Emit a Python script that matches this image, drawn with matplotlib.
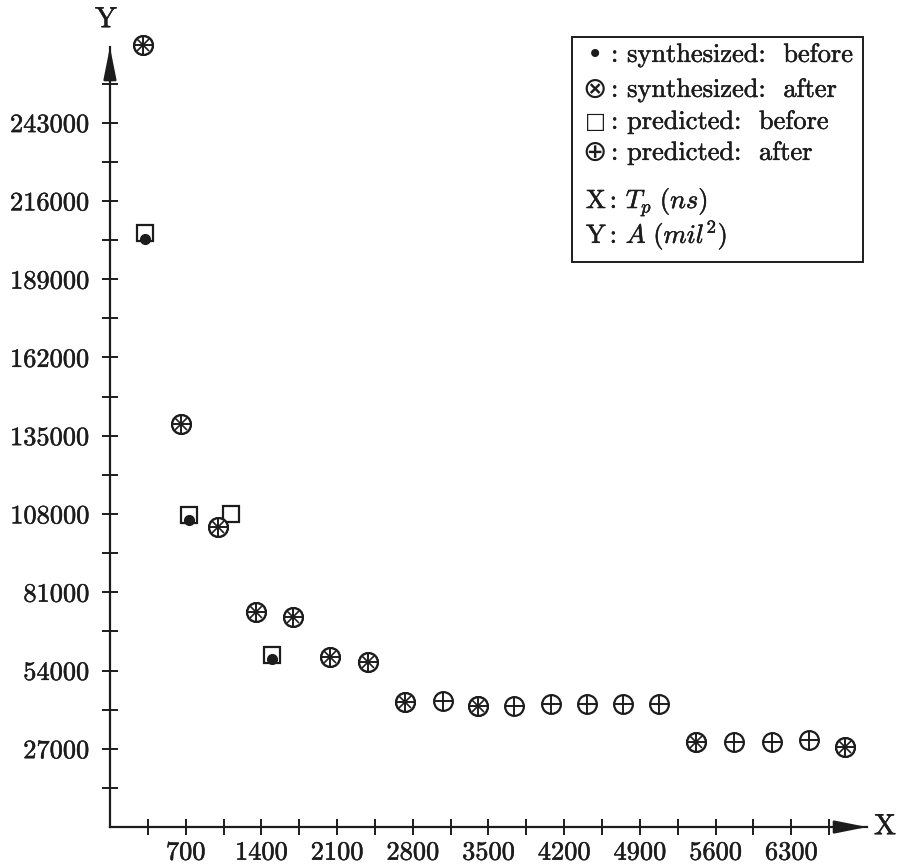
import matplotlib
matplotlib.use('Agg')
import matplotlib.pyplot as plt
import matplotlib.patheffects as pe
from matplotlib.patches import Rectangle

plt.rcParams['font.family'] = ['cmr10', 'DejaVu Sans']
plt.rcParams['mathtext.fontset'] = 'cm'
plt.rcParams['axes.formatter.use_mathtext'] = True

INK = '#1c1c1c'
BOLD = [pe.withStroke(linewidth=0.35, foreground=INK)]

# synthesized: before (dot)
synth_before_x = [324, 733, 1502]
synth_before_y = [203000, 106000, 57800]

# predicted: before (square)
pred_before_x = [324, 733, 1121, 1502]
pred_before_y = [204900, 107600, 108000, 59300]

# synthesized: after (circle with x)
synth_after_x = [306, 658, 1001, 1354, 1696, 2039, 2382, 2726, 3402, 5423, 6795]
synth_after_y = [269800, 139000, 103500, 74200, 72500, 58700, 56900, 43100, 41700, 29300, 27600]

# predicted: after (circle with +)
pred_after_x = [306, 658, 1001, 1354, 1696, 2039, 2382, 2726, 3078, 3402, 3736, 4078,
                4412, 4747, 5080, 5423, 5766, 6119, 6461, 6795]
pred_after_y = [269800, 139000, 103500, 74200, 72500, 58700, 56900, 43100, 43500, 41700,
                41700, 42400, 42400, 42400, 42400, 29300, 29300, 29300, 30000, 27600]

x_labels = [700, 1400, 2100, 2800, 3500, 4200, 4900, 5600, 6300]
x_minor = [350, 1050, 1750, 2450, 3150, 3850, 4550, 5250, 5950, 6650]
y_labels = [27000, 54000, 81000, 108000, 135000, 162000, 189000, 216000, 243000]
y_minor = [13500, 40500, 67500, 94500, 121500, 148500, 175500, 202500, 229500, 256500]

fig = plt.figure(figsize=(9.05, 8.68), dpi=100)
ax = fig.add_axes([0.1215, 0.0472, 0.8365, 0.8986])
ax.set_xlim(0, 7000)
ax.set_ylim(0, 269100)

for s in ['top', 'right']:
    ax.spines[s].set_visible(False)
for s in ['left', 'bottom']:
    ax.spines[s].set_color(INK)
    ax.spines[s].set_linewidth(1.6)

ax.set_xticks(x_labels)
ax.set_xticklabels([str(v) for v in x_labels])
ax.set_xticks(x_minor, minor=True)
ax.set_yticks(y_labels)
ax.set_yticklabels([str(v) for v in y_labels])
ax.set_yticks(y_minor, minor=True)
ax.tick_params(which='both', direction='inout', length=12, width=1.4, color=INK)
ax.tick_params(axis='x', labelsize=19, pad=4, labelcolor=INK)
ax.tick_params(axis='y', labelsize=19, pad=9, labelcolor=INK)
for lab in ax.get_xticklabels() + ax.get_yticklabels():
    lab.set_path_effects(BOLD)

# arrow heads
arr = dict(arrowstyle='-|>,head_length=1.1,head_width=0.22', color=INK, lw=1.6,
           mutation_scale=18, shrinkA=0, shrinkB=0)
ax.annotate('', xy=(1.0, 0), xytext=(0.96, 0), xycoords='axes fraction',
            textcoords='axes fraction', arrowprops=arr, annotation_clip=False)
ax.annotate('', xy=(0, 1.0), xytext=(0, 0.96), xycoords='axes fraction',
            textcoords='axes fraction', arrowprops=arr, annotation_clip=False)
fig.text(885 / 905, 1 - 827 / 868, 'X', fontsize=21, ha='center', va='center', color=INK,
         path_effects=BOLD)
fig.text(106 / 905, 1 - 20 / 868, 'Y', fontsize=21, ha='center', va='center', color=INK,
         path_effects=BOLD)

# markers
ax.plot(pred_before_x, pred_before_y, 's', ms=12, mfc='white', mec=INK, mew=1.6, clip_on=False)
ax.plot(synth_before_x, synth_before_y, 'o', ms=7, color=INK, clip_on=False)
ax.plot(synth_after_x, synth_after_y, 'o', ms=13.5, mfc='white', mec=INK, mew=1.6, clip_on=False)
ax.plot(pred_after_x, pred_after_y, 'o', ms=13.5, mfc='white', mec=INK, mew=1.6, clip_on=False)
ax.plot(synth_after_x, synth_after_y, 'x', ms=9, mec=INK, mew=1.2, clip_on=False)
ax.plot(pred_after_x, pred_after_y, '+', ms=13, mec=INK, mew=1.4, clip_on=False)

# legend box
fig.patches.append(Rectangle((572 / 905, 1 - 262 / 868), 291 / 905, 225 / 868,
                             transform=fig.transFigure, fill=False, ec=INK, lw=1.4))
symbols = ['\u2022', '\u2297', '\u25a1', '\u2295']
sym_sizes = [20, 21, 16, 21]
entries = ['synthesized:  before', 'synthesized:  after', 'predicted:  before', 'predicted:  after']
rows = [55, 90, 122, 153]
for sym, sz, txt, r in zip(symbols, sym_sizes, entries, rows):
    fig.text(595 / 905, 1 - r / 868, sym, fontsize=sz, ha='center', va='center',
             family='DejaVu Sans', color=INK)
    fig.text(611 / 905, 1 - r / 868, ': ' + txt, fontsize=19, ha='left', va='center', color=INK,
             path_effects=BOLD)
fig.text(586 / 905, 1 - 202 / 868, r'X$\,$: $T_p\ (ns)$', fontsize=19, ha='left', va='center',
         color=INK, path_effects=BOLD)
fig.text(586 / 905, 1 - 235 / 868, r'Y$\,$: $A\ (mil^2)$', fontsize=19, ha='left', va='center',
         color=INK, path_effects=BOLD)

fig.savefig('out.png', dpi=100, facecolor='white')
